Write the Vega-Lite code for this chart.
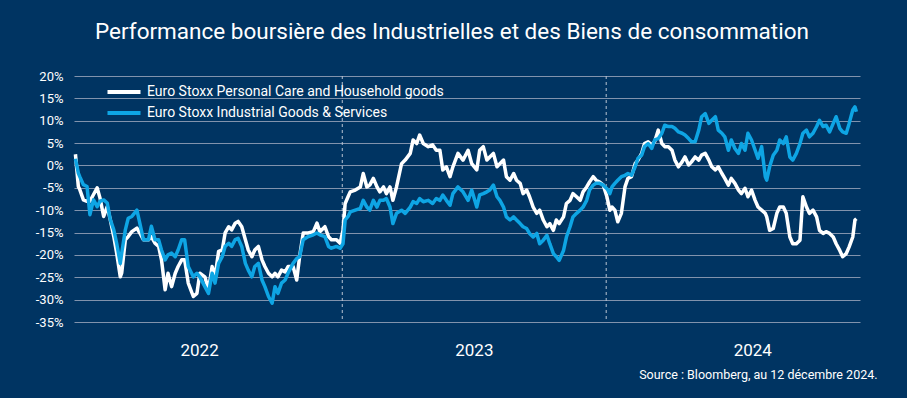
{
"$schema": "https://vega.github.io/schema/vega-lite/v6.json",
"width": 786, "height": 246,
"autosize": {"type": "none"},
"padding": {"left": 74, "top": 76, "right": 47, "bottom": 76},
"background": "#003462",
"config": {"view": {"stroke": null}, "font": "Roboto"},
"title": {"text": "Performance boursière des Industrielles et des Biens de consommation", "color": "#ffffff", "fontSize": 22.5, "fontWeight": "normal", "font": "Roboto", "anchor": "middle", "baseline": "alphabetic", "offset": 9, "dx": -15},
"datasets": {
"years": [{"date": "2023-01-01"}, {"date": "2024-01-01"}],
"perf": [
{"date":"2021-12-28","care":2.5,"ind":1.5},
{"date":"2022-01-01","care":-4.7,"ind":-1.7},
{"date":"2022-01-03","care":-5.4,"ind":-2.5},
{"date":"2022-01-08","care":-7.7,"ind":-4.3},
{"date":"2022-01-13","care":-8,"ind":-4.7},
{"date":"2022-01-17","care":-8,"ind":-11},
{"date":"2022-01-22","care":-6.5,"ind":-7.7},
{"date":"2022-01-27","care":-5,"ind":-9.2},
{"date":"2022-01-31","care":-7.3,"ind":-8},
{"date":"2022-02-05","care":-11.4,"ind":-7.7},
{"date":"2022-02-10","care":-9.2,"ind":-8.4},
{"date":"2022-02-14","care":-12,"ind":-12},
{"date":"2022-02-19","care":-15.9,"ind":-14.4},
{"date":"2022-02-23","care":-19.6,"ind":-17.4},
{"date":"2022-02-28","care":-24.9,"ind":-21.9},
{"date":"2022-03-02","care":-24,"ind":-19.6},
{"date":"2022-03-07","care":-16.6,"ind":-14.4},
{"date":"2022-03-11","care":-15.9,"ind":-11.8},
{"date":"2022-03-16","care":-14.8,"ind":-11.4},
{"date":"2022-03-23","care":-14,"ind":-10},
{"date":"2022-03-27","care":-15.1,"ind":-12.9},
{"date":"2022-04-01","care":-16.6,"ind":-16.6},
{"date":"2022-04-08","care":-16.6,"ind":-16.6},
{"date":"2022-04-12","care":-15.9,"ind":-13.6},
{"date":"2022-04-17","care":-17.4,"ind":-16.6},
{"date":"2022-04-22","care":-18.1,"ind":-16.6},
{"date":"2022-04-26","care":-21.1,"ind":-18.9},
{"date":"2022-05-01","care":-27.8,"ind":-21.1},
{"date":"2022-05-05","care":-24.1,"ind":-20},
{"date":"2022-05-10","care":-27.1,"ind":-19.6},
{"date":"2022-05-15","care":-24.1,"ind":-20.4},
{"date":"2022-05-19","care":-22.6,"ind":-18.9},
{"date":"2022-05-24","care":-21.1,"ind":-16.6},
{"date":"2022-05-28","care":-21.1,"ind":-16.6},
{"date":"2022-06-02","care":-26.3,"ind":-22.6},
{"date":"2022-06-09","care":-29.3,"ind":-24.9},
{"date":"2022-06-14","care":-28.6,"ind":-24.1},
{"date":"2022-06-18","care":-24.1,"ind":-24.9},
{"date":"2022-06-25","care":-24.9,"ind":-27.1},
{"date":"2022-06-30","care":-27.8,"ind":-28.6},
{"date":"2022-07-05","care":-22.6,"ind":-24.1},
{"date":"2022-07-09","care":-24.9,"ind":-26.3},
{"date":"2022-07-14","care":-19.2,"ind":-21.9},
{"date":"2022-07-19","care":-18.9,"ind":-20.4},
{"date":"2022-07-23","care":-15.1,"ind":-18.1},
{"date":"2022-07-28","care":-13.7,"ind":-17.4},
{"date":"2022-08-01","care":-14.4,"ind":-18.1},
{"date":"2022-08-06","care":-12.9,"ind":-16.6},
{"date":"2022-08-10","care":-12.5,"ind":-16.3},
{"date":"2022-08-15","care":-13.7,"ind":-18.1},
{"date":"2022-08-20","care":-16.6,"ind":-21.9},
{"date":"2022-08-24","care":-18.9,"ind":-23.4},
{"date":"2022-08-29","care":-20.4,"ind":-24.9},
{"date":"2022-09-02","care":-18.9,"ind":-22.6},
{"date":"2022-09-07","care":-18.1,"ind":-21.9},
{"date":"2022-09-12","care":-21.1,"ind":-25.6},
{"date":"2022-09-16","care":-22.6,"ind":-27.1},
{"date":"2022-09-21","care":-24.1,"ind":-29.3},
{"date":"2022-09-26","care":-24.9,"ind":-30.8},
{"date":"2022-09-30","care":-24.1,"ind":-27.1},
{"date":"2022-10-04","care":-24.9,"ind":-28.6},
{"date":"2022-10-09","care":-23.4,"ind":-26.3},
{"date":"2022-10-14","care":-23.8,"ind":-25.6},
{"date":"2022-10-18","care":-22.6,"ind":-24.1},
{"date":"2022-10-25","care":-22.6,"ind":-21.9},
{"date":"2022-10-30","care":-25.6,"ind":-20.8},
{"date":"2022-11-03","care":-20.4,"ind":-20.4},
{"date":"2022-11-08","care":-15.1,"ind":-16.6},
{"date":"2022-11-15","care":-15.1,"ind":-15.9},
{"date":"2022-11-22","care":-14.8,"ind":-15.5},
{"date":"2022-11-27","care":-12.9,"ind":-15.1},
{"date":"2022-12-01","care":-14.8,"ind":-15.5},
{"date":"2022-12-08","care":-13.7,"ind":-15.9},
{"date":"2022-12-13","care":-15.9,"ind":-18.1},
{"date":"2022-12-17","care":-16.6,"ind":-18.5},
{"date":"2022-12-24","care":-16.6,"ind":-18.1},
{"date":"2022-12-29","care":-17.4,"ind":-18.5},
{"date":"2023-01-02","care":-14.5,"ind":-17.5},
{"date":"2023-01-05","care":-8.5,"ind":-12.2},
{"date":"2023-01-09","care":-7,"ind":-11.4},
{"date":"2023-01-12","care":-5.9,"ind":-10.4},
{"date":"2023-01-19","care":-5.5,"ind":-10},
{"date":"2023-01-26","care":-4.8,"ind":-9.6},
{"date":"2023-01-30","care":-1.8,"ind":-7.8},
{"date":"2023-02-04","care":-4.8,"ind":-9.3},
{"date":"2023-02-08","care":-4.4,"ind":-10},
{"date":"2023-02-13","care":-2.9,"ind":-7.8},
{"date":"2023-02-18","care":-4.8,"ind":-9.3},
{"date":"2023-02-22","care":-5.9,"ind":-7.8},
{"date":"2023-02-27","care":-4.8,"ind":-7.8},
{"date":"2023-03-03","care":-6.3,"ind":-7.4},
{"date":"2023-03-08","care":-4.8,"ind":-9.3},
{"date":"2023-03-12","care":-7.8,"ind":-13},
{"date":"2023-03-17","care":-4.8,"ind":-10.7},
{"date":"2023-03-24","care":0.4,"ind":-10},
{"date":"2023-03-29","care":1.2,"ind":-10.7},
{"date":"2023-04-05","care":2.7,"ind":-9.3},
{"date":"2023-04-09","care":5.7,"ind":-8.1},
{"date":"2023-04-14","care":4.9,"ind":-8.5},
{"date":"2023-04-18","care":6.8,"ind":-7.4},
{"date":"2023-04-23","care":4.9,"ind":-8.1},
{"date":"2023-04-30","care":4.2,"ind":-7.8},
{"date":"2023-05-06","care":4.6,"ind":-8.5},
{"date":"2023-05-11","care":3.4,"ind":-7.4},
{"date":"2023-05-16","care":3.4,"ind":-7.8},
{"date":"2023-05-20","care":-1,"ind":-6.6},
{"date":"2023-05-25","care":-0.3,"ind":-7.8},
{"date":"2023-05-30","care":-2.5,"ind":-8.9},
{"date":"2023-06-03","care":-0.3,"ind":-6.3},
{"date":"2023-06-10","care":2.7,"ind":-4.8},
{"date":"2023-06-17","care":1.2,"ind":-5.9},
{"date":"2023-06-24","care":3.4,"ind":-7.8},
{"date":"2023-06-29","care":0.4,"ind":-5.5},
{"date":"2023-07-06","care":-1,"ind":-9.3},
{"date":"2023-07-10","care":3.4,"ind":-6.6},
{"date":"2023-07-15","care":4.2,"ind":-6.3},
{"date":"2023-07-20","care":1.2,"ind":-5.9},
{"date":"2023-07-24","care":1.9,"ind":-5.5},
{"date":"2023-07-29","care":2.7,"ind":-4.4},
{"date":"2023-08-03","care":-0.3,"ind":-7},
{"date":"2023-08-07","care":0.4,"ind":-7.8},
{"date":"2023-08-12","care":1.2,"ind":-9.3},
{"date":"2023-08-16","care":-2.5,"ind":-11.5},
{"date":"2023-08-21","care":-3.3,"ind":-12.2},
{"date":"2023-08-26","care":-1.8,"ind":-11.5},
{"date":"2023-08-30","care":-3.3,"ind":-12.2},
{"date":"2023-09-04","care":-4,"ind":-13},
{"date":"2023-09-08","care":-6.3,"ind":-13.7},
{"date":"2023-09-13","care":-5.5,"ind":-14.1},
{"date":"2023-09-17","care":-7,"ind":-15.2},
{"date":"2023-09-22","care":-9.3,"ind":-16},
{"date":"2023-09-27","care":-10.7,"ind":-15.2},
{"date":"2023-10-01","care":-10,"ind":-17.5},
{"date":"2023-10-06","care":-12.2,"ind":-16.7},
{"date":"2023-10-11","care":-13.7,"ind":-15.6},
{"date":"2023-10-15","care":-13,"ind":-17.5},
{"date":"2023-10-20","care":-14.5,"ind":-19.7},
{"date":"2023-10-24","care":-12.2,"ind":-20.4},
{"date":"2023-10-28","care":-13,"ind":-21.2},
{"date":"2023-11-03","care":-11.5,"ind":-19},
{"date":"2023-11-07","care":-8.5,"ind":-16},
{"date":"2023-11-12","care":-7.8,"ind":-13.7},
{"date":"2023-11-16","care":-6.3,"ind":-11.5},
{"date":"2023-11-21","care":-7,"ind":-10.7},
{"date":"2023-11-26","care":-7.8,"ind":-10},
{"date":"2023-11-30","care":-5.9,"ind":-9.3},
{"date":"2023-12-05","care":-4.8,"ind":-7.8},
{"date":"2023-12-09","care":-3.7,"ind":-5.5},
{"date":"2023-12-14","care":-2.5,"ind":-4.4},
{"date":"2023-12-18","care":-3.3,"ind":-4},
{"date":"2023-12-23","care":-3.7,"ind":-4},
{"date":"2023-12-28","care":-4.4,"ind":-4.4},
{"date":"2024-01-02","care":-7,"ind":-5.2},
{"date":"2024-01-06","care":-10,"ind":-6.3},
{"date":"2024-01-09","care":-9.3,"ind":-4.8},
{"date":"2024-01-13","care":-10,"ind":-4},
{"date":"2024-01-17","care":-12.6,"ind":-3.3},
{"date":"2024-01-22","care":-10.7,"ind":-2.5},
{"date":"2024-01-27","care":-4.8,"ind":-2.2},
{"date":"2024-01-31","care":-2.9,"ind":-1.8},
{"date":"2024-02-05","care":-2.5,"ind":-2.2},
{"date":"2024-02-10","care":0.4,"ind":-0.3},
{"date":"2024-02-14","care":1.2,"ind":1.6},
{"date":"2024-02-19","care":2.7,"ind":2.3},
{"date":"2024-02-23","care":4.9,"ind":4.2},
{"date":"2024-02-28","care":5.3,"ind":4.9},
{"date":"2024-03-04","care":4.6,"ind":3.8},
{"date":"2024-03-08","care":5.3,"ind":5.7},
{"date":"2024-03-13","care":7.9,"ind":6},
{"date":"2024-03-18","care":4.9,"ind":7.2},
{"date":"2024-03-22","care":4.2,"ind":9},
{"date":"2024-03-27","care":4.2,"ind":8.7},
{"date":"2024-04-01","care":3.4,"ind":8.7},
{"date":"2024-04-05","care":1.2,"ind":8.3},
{"date":"2024-04-10","care":-0.3,"ind":7.5},
{"date":"2024-04-15","care":0.8,"ind":7.2},
{"date":"2024-04-19","care":1.9,"ind":6.8},
{"date":"2024-04-24","care":0.1,"ind":6},
{"date":"2024-04-28","care":0.8,"ind":5.3},
{"date":"2024-05-03","care":1.9,"ind":5.3},
{"date":"2024-05-08","care":1.2,"ind":7.9},
{"date":"2024-05-12","care":2.3,"ind":10.9},
{"date":"2024-05-17","care":2.7,"ind":11.6},
{"date":"2024-05-22","care":1.2,"ind":9.4},
{"date":"2024-05-26","care":-0.3,"ind":10.1},
{"date":"2024-05-31","care":-1,"ind":10.9},
{"date":"2024-06-04","care":-0.3,"ind":7.9},
{"date":"2024-06-09","care":-1.8,"ind":7.2},
{"date":"2024-06-13","care":-2.9,"ind":6.4},
{"date":"2024-06-18","care":-4.4,"ind":3.4},
{"date":"2024-06-22","care":-2.9,"ind":5.7},
{"date":"2024-06-27","care":-4,"ind":3.8},
{"date":"2024-07-02","care":-5.5,"ind":2.7},
{"date":"2024-07-06","care":-6.3,"ind":4.9},
{"date":"2024-07-11","care":-5.1,"ind":3.4},
{"date":"2024-07-15","care":-7,"ind":7.2},
{"date":"2024-07-20","care":-5.5,"ind":5.7},
{"date":"2024-07-25","care":-7.8,"ind":3.4},
{"date":"2024-07-29","care":-9.3,"ind":1.6},
{"date":"2024-08-03","care":-10,"ind":4.2},
{"date":"2024-08-08","care":-10.7,"ind":-2.5},
{"date":"2024-08-10","care":-11.5,"ind":-3.3},
{"date":"2024-08-14","care":-14.5,"ind":-0.3},
{"date":"2024-08-19","care":-14.1,"ind":2.3},
{"date":"2024-08-24","care":-10.7,"ind":3.4},
{"date":"2024-08-28","care":-9.3,"ind":5.7},
{"date":"2024-09-02","care":-9.3,"ind":4.9},
{"date":"2024-09-06","care":-10.7,"ind":6.4},
{"date":"2024-09-11","care":-16,"ind":1.9},
{"date":"2024-09-15","care":-17.5,"ind":1.2},
{"date":"2024-09-20","care":-17.5,"ind":2.7},
{"date":"2024-09-25","care":-16.7,"ind":4.9},
{"date":"2024-09-29","care":-7,"ind":7.2},
{"date":"2024-10-04","care":-9.3,"ind":7.9},
{"date":"2024-10-08","care":-10.7,"ind":6.4},
{"date":"2024-10-13","care":-10,"ind":7.2},
{"date":"2024-10-18","care":-11.5,"ind":8.7},
{"date":"2024-10-22","care":-14.5,"ind":10.1},
{"date":"2024-10-27","care":-15.2,"ind":8.7},
{"date":"2024-10-31","care":-14.8,"ind":9},
{"date":"2024-11-05","care":-15.2,"ind":7.5},
{"date":"2024-11-10","care":-16,"ind":9.4},
{"date":"2024-11-14","care":-17.5,"ind":10.9},
{"date":"2024-11-19","care":-19,"ind":8.3},
{"date":"2024-11-23","care":-20.4,"ind":7.5},
{"date":"2024-11-28","care":-19.7,"ind":7.2},
{"date":"2024-12-02","care":-18.2,"ind":9.4},
{"date":"2024-12-07","care":-16,"ind":12.4},
{"date":"2024-12-10","care":-12.2,"ind":13.1},
{"date":"2024-12-12","care":-11.9,"ind":12}
]
},
"layer": [
{
"data": {"name": "years"},
"mark": {"type": "rule", "color": "#b9c4d3", "strokeDash": [3, 3], "strokeWidth": 1},
"encoding": {
"x": {"field": "date", "type": "temporal"}
}
},
{
"data": {"name": "perf"},
"transform": [{"fold": ["care", "ind"], "as": ["series", "value"]}],
"encoding": {
"x": {"field": "date", "type": "temporal",
"scale": {"type": "utc", "domain": [{"year": 2021, "month": 12, "date": 26, "utc": true}, {"year": 2024, "month": 12, "date": 17, "utc": true}]},
"axis": {"values": [{"year": 2022, "month": 6, "date": 17, "utc": true}, {"year": 2023, "month": 7, "date": 2, "utc": true}, {"year": 2024, "month": 7, "date": 21, "utc": true}],
"labelExpr": "utcFormat(datum.value, '%Y')", "grid": false, "ticks": false, "domain": false,
"labelColor": "#ffffff", "labelFontSize": 17, "labelFont": "Roboto", "labelPadding": 20,
"title": "Source : Bloomberg, au 12 décembre 2024.", "titleColor": "#ffffff", "titleFont": "Roboto", "titleFontSize": 12.5, "titleFontWeight": "normal",
"titleAnchor": "end", "titleAlign": "right", "titleX": 803, "titleY": 52, "titleBaseline": "middle"}},
"y": {"field": "value", "type": "quantitative",
"scale": {"domain": [-35, 20], "nice": false, "zero": false},
"axis": {"values": [-35, -30, -25, -20, -15, -10, -5, 0, 5, 10, 15, 20], "labelExpr": "datum.value + '%'", "title": null, "domain": false, "ticks": false,
"gridColor": "#8193ad", "gridWidth": 1, "labelColor": "#ffffff", "labelFontSize": 13, "labelFont": "Roboto", "labelPadding": 11}},
"color": {"field": "series", "type": "nominal",
"scale": {"domain": ["care", "ind"], "range": ["#ffffff", "#0ea5e4"]},
"legend": {"orient": "none", "legendX": 37, "legendY": 3, "title": null, "direction": "vertical",
"symbolType": "M-1.5,0H1.5", "symbolSize": 484, "symbolStrokeWidth": 4, "symbolFillColor": "transparent", "labelColor": "#ffffff", "labelFontSize": 14, "labelFont": "Roboto",
"rowPadding": 0, "labelOffset": 10, "labelLimit": 0,
"labelExpr": "datum.value == 'care' ? 'Euro Stoxx Personal Care and Household goods' : 'Euro Stoxx Industrial Goods & Services'"}}
},
"layer": [
{"transform": [{"filter": "datum.series == 'care'"}], "mark": {"type": "line", "strokeWidth": 3.5, "strokeJoin": "round"}},
{"transform": [{"filter": "datum.series == 'ind'"}], "mark": {"type": "line", "strokeWidth": 3.5, "strokeJoin": "round"}}
]
}
]
}
